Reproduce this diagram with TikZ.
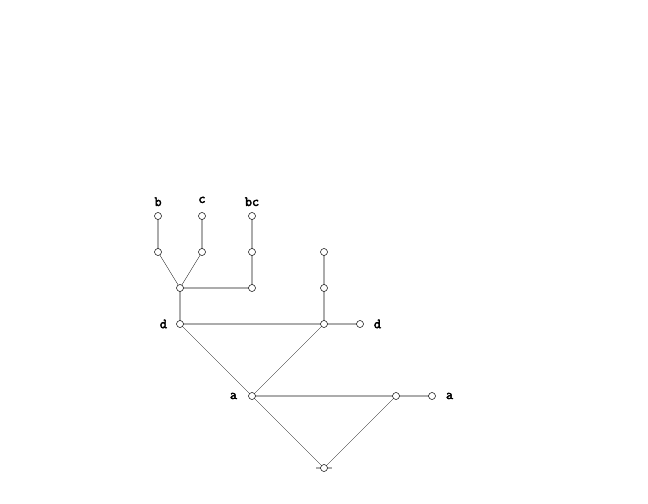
\documentclass[tikz,border=0pt]{standalone}
\usepackage{fontspec}
\newfontfamily\lblfont{Latin Modern Mono}[FakeBold=3]
\usetikzlibrary{positioning}

\begin{document}
\begin{tikzpicture}[x=1bp,y=-1bp,
    every node/.style={font=\lblfont\bfseries\fontsize{14}{16}\selectfont},
    vertex/.style={circle,draw,fill=white,inner sep=0pt,minimum size=7bp,line width=.5pt},
    tag/.style={inner sep=1pt},
    edge/.style={draw=gray!65,line width=1.3pt},
    diag/.style={draw,line width=.3pt}]

    \useasboundingbox (0,0) rectangle (648,504);

    % upper part
    \foreach \n/\x in {B/158,C/202,BC/252} {
      \coordinate (LEAF\n) at (\x,216);
      \coordinate (MID\n) at (\x,252);
    }
    \coordinate (JOIN) at (180,288);
    \coordinate (BCLOW) at (252,288);
    \coordinate (DL) at (180,324);
    \coordinate (DR) at (324,324);
    \coordinate (DEND) at (360,324);
    \coordinate (UP1) at (324,288);
    \coordinate (UP2) at (324,252);
    % lower part
    \coordinate (AL) at (252,396);
    \coordinate (AR) at (396,396);
    \coordinate (AEND) at (432,396);
    \coordinate (ROOT) at (324,468);

    \path[edge] (LEAFB) -- (MIDB);
    \path[edge] (LEAFC) -- (MIDC);
    \path[edge] (LEAFBC) -- (MIDBC) -- (BCLOW) -- (JOIN) -- (DL) -- (DR) -- (DEND);
    \path[edge] (UP2) -- (UP1) -- (DR);
    \path[edge] (AL) -- (AR) -- (AEND);
    \path[edge] ([xshift=-8bp]ROOT) -- ([xshift=8bp]ROOT);

    \path[diag] (MIDB) -- (JOIN) -- (MIDC);
    \path[diag] (DL) -- (AL) -- (DR);
    \path[diag] (AL) -- (ROOT) -- (AR);

    \foreach \c in {LEAFB,MIDB,LEAFC,MIDC,LEAFBC,MIDBC,JOIN,BCLOW,DL,DR,DEND,UP1,UP2,AL,AR,AEND,ROOT}
      \node[vertex] (N\c) at (\c) {};

    \node[tag,above=5bp of NLEAFB] {b};
    \node[tag,above=8bp of NLEAFC] {c};
    \node[tag,above=5bp of NLEAFBC] {bc};
    \node[tag,left=8bp of NDL] {d};
    \node[tag,right=9bp of NDEND] {d};
    \node[tag,left=10bp of NAL] {a};
    \node[tag,right=9bp of NAEND] {a};

  \end{tikzpicture}
\end{document}
